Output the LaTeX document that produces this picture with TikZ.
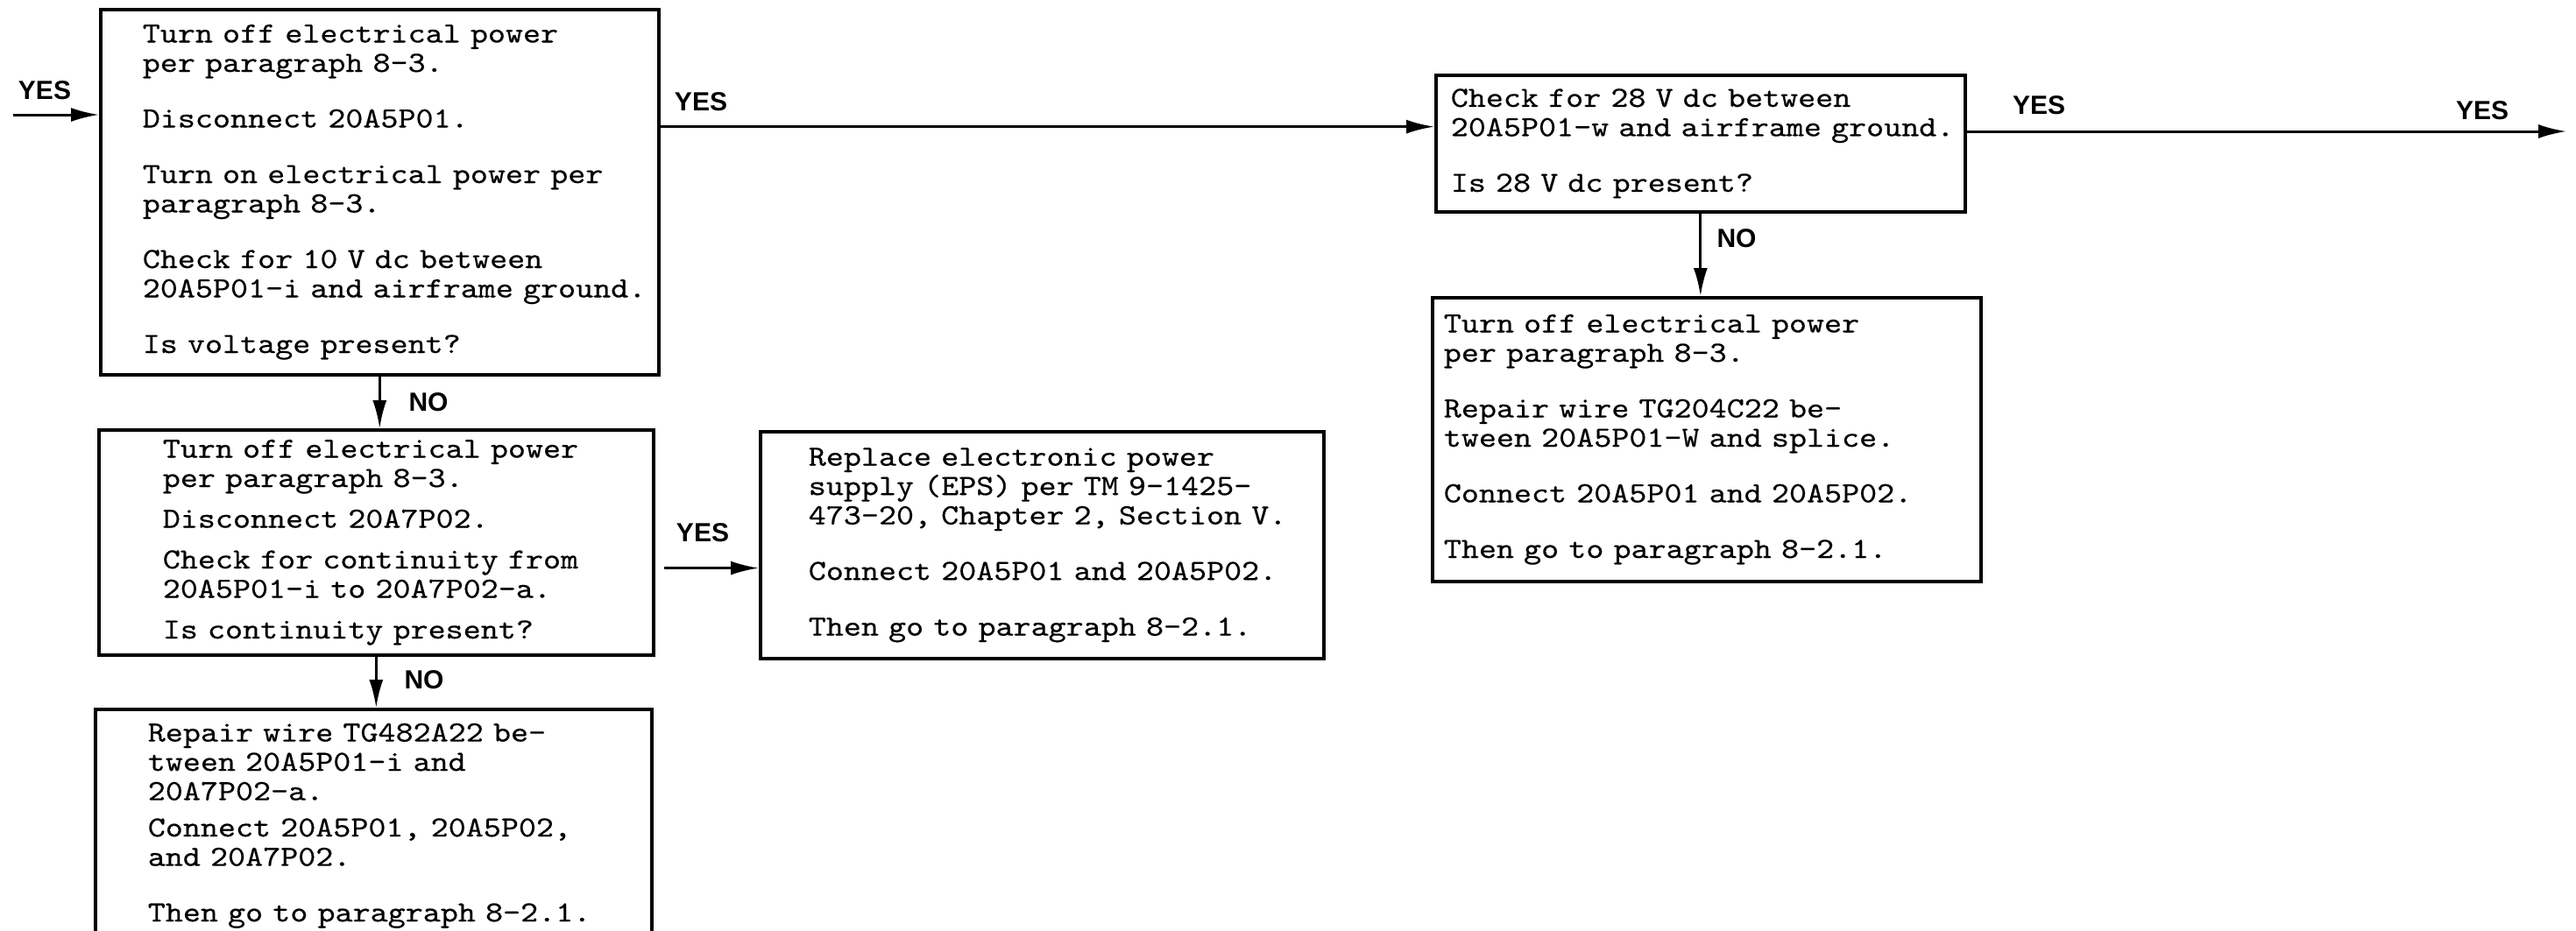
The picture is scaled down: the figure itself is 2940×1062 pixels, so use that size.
\documentclass[tikz,border=0pt]{standalone}
\usepackage{fontspec}
\setmonofont{lmmono10-regular}[Extension=.otf, FakeStretch=1.143, FakeBold=0.4]
\newfontfamily\tagfont{Liberation Sans}
\usetikzlibrary{arrows.meta,calc}
\newcommand{\wide}{\\[15pt]}
\newcommand{\narrow}{\\[6.5pt]}
\begin{document}
\begin{tikzpicture}[x=0.5pt,y=-0.5pt,
  stepbox/.style={draw, line width=1.8pt, anchor=north west, inner xsep=0pt, inner ysep=4pt, align=left,
    font=\ttfamily\fontsize{16.7}{16.75}\selectfont},
  indent/.style={execute at begin node={\leftskip=#1\relax}},
  flow/.style={line width=1.5pt, -{Latex[length=16pt,width=8pt]}},
  tag/.style={font=\tagfont\bfseries\fontsize{15}{15}\selectfont}]
\useasboundingbox (0,0) rectangle (2940,1062);
\node[stepbox, indent=24pt, text width=318.5pt, minimum height=208.5pt] (voltchk) at (113,9)
  {Turn off electrical power\\per paragraph 8-3.\wide Disconnect 20A5P01.\wide Turn on electrical power per\\paragraph 8-3.\wide Check for 10 V dc between\\20A5P01-i and airframe ground.\wide Is voltage present?};
\node[stepbox, indent=36.5pt, text width=316.5pt, minimum height=128.5pt] (contchk) at (111,489)
  {Turn off electrical power\\per paragraph 8-3.\narrow Disconnect 20A7P02.\narrow Check for continuity from\\20A5P01-i to 20A7P02-a.\narrow Is continuity present?};
\node[stepbox, indent=30pt, text width=317.5pt, minimum height=133pt] (repwire) at (107,808)
  {Repair wire TG482A22 be-\\tween 20A5P01-i and\\20A7P02-a.\\[4pt]Connect 20A5P01, 20A5P02,\\and 20A7P02.\wide Then go to paragraph 8-2.1.};
\node[stepbox, indent=27.5pt, text width=321.5pt, minimum height=129.5pt] (repeps) at (866,491)
  {Replace electronic power\\supply (EPS) per TM 9-1425-\\473-20, Chapter 2, Section V.\wide Connect 20A5P01 and 20A5P02.\wide Then go to paragraph 8-2.1.};
\node[stepbox, indent=8.5pt, text width=302pt, minimum height=78pt] (chk28) at (1637,84)
  {Check for 28 V dc between\\20A5P01-w and airframe ground.\wide Is 28 V dc present?};
\node[stepbox, indent=6.5pt, text width=313pt, minimum height=162pt] (repsplice) at (1633,338)
  {Turn off electrical power\\per paragraph 8-3.\wide Repair wire TG204C22 be-\\tween 20A5P01-W and splice.\wide Connect 20A5P01 and 20A5P02.\wide Then go to paragraph 8-2.1.};
\coordinate (start) at (15,131);
\coordinate (exit) at (2929,150);
\coordinate (cin) at ($(chk28.north west)!0.38!(chk28.south west)$);
\coordinate (ein) at ($(repeps.north west)!0.6!(repeps.south west)$);
\draw[flow] (start) -- (start -| voltchk.west);
\draw[flow] (cin -| voltchk.east) -- (cin);
\draw[flow] (chk28.east |- exit) -- (exit);
\draw[flow] (chk28.south) -- (chk28.south |- repsplice.north);
\draw[flow] (voltchk.south) -- (voltchk.south |- contchk.north);
\draw[flow] (contchk.south) -- (contchk.south |- repwire.north);
\draw[flow] ([xshift=5pt]ein -| contchk.east) -- (ein);
\node[tag] (yesin) at (51,103) {YES};
\node[tag] (yesvolt) at (800,116) {YES};
\node[tag] (yes28) at (2327,120) {YES};
\node[tag] (yesout) at (2833,126) {YES};
\node[tag] (no28) at (1982,272) {NO};
\node[tag] (novolt) at (489,459) {NO};
\node[tag] (yescont) at (802,608) {YES};
\node[tag] (nocont) at (484,776) {NO};
\end{tikzpicture}
\end{document}
